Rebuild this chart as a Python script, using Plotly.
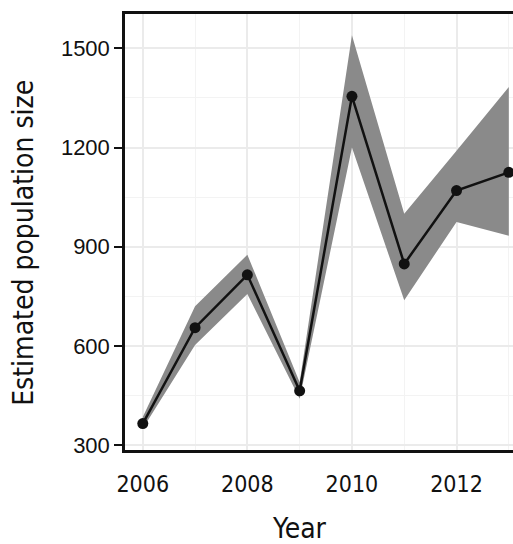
import plotly.graph_objects as go

years = [2006, 2007, 2008, 2009, 2010, 2011, 2012, 2013]
estimate = [365, 655, 815, 464, 1355, 848, 1070, 1125]
lower = [350, 603, 757, 440, 1200, 738, 975, 933]
upper = [385, 720, 876, 490, 1540, 1000, 1190, 1383]

x_tickvals = [2006, 2008, 2010, 2012]
x_ticktext = ["2006", "2008", "2010", "2012"]
y_tickvals = [300, 600, 900, 1200, 1500]
y_ticktext = ["300", "600", "900", "1200", "1500"]

XFONT = "DejaVu Sans Condensed, DejaVu Sans"

fig = go.Figure()
fig.add_trace(go.Scatter(x=years, y=lower, mode="lines", line=dict(width=0, color="rgba(0,0,0,0)"),
                         showlegend=False, hoverinfo="skip"))
fig.add_trace(go.Scatter(x=years, y=upper, mode="lines", line=dict(width=0, color="rgba(0,0,0,0)"),
                         fill="tonexty", fillcolor="rgb(138,138,138)", showlegend=False, hoverinfo="skip"))
fig.add_trace(go.Scatter(x=years, y=estimate, mode="lines+markers",
                         line=dict(color="#111111", width=2.5),
                         marker=dict(color="#111111", size=11),
                         showlegend=False))

fig.update_layout(
    width=513, height=544,
    margin=dict(l=125, r=0, t=14, b=94),
    paper_bgcolor="white", plot_bgcolor="white",
    xaxis=dict(
        range=[2005.66, 2013.08],
        tickvals=x_tickvals, ticktext=x_ticktext,
        ticks="", ticklabelstandoff=12,
        tickfont=dict(family=XFONT, size=23, color="#111111"),
        showgrid=True, gridcolor="#ebebeb", gridwidth=1.5,
        minor=dict(dtick=1, tick0=2007, showgrid=True, gridcolor="#f3f3f3", gridwidth=1),
        showline=True, linecolor="#111111", linewidth=2.5, mirror=True,
        zeroline=False,
    ),
    yaxis=dict(
        range=[285, 1604],
        tickvals=y_tickvals, ticktext=y_ticktext,
        ticks="outside", ticklen=8, tickwidth=2, tickcolor="#111111",
        tickfont=dict(family="Liberation Sans, Arial", size=22, color="#111111"),
        showgrid=True, gridcolor="#ebebeb", gridwidth=1.5,
        minor=dict(dtick=300, tick0=450, showgrid=True, gridcolor="#f3f3f3", gridwidth=1),
        showline=True, linecolor="#111111", linewidth=2.5,
        zeroline=False,
    ),
    annotations=[
        dict(text="Year", xref="paper", yref="paper", x=0.45, y=-0.18,
             showarrow=False, xanchor="center", yanchor="middle",
             font=dict(family=XFONT, size=28, color="#111111")),
        dict(text="Estimated population size", xref="paper", yref="paper", x=-0.262, y=0.476,
             showarrow=False, xanchor="center", yanchor="middle", textangle=-90,
             font=dict(family=XFONT, size=28, color="#111111")),
    ],
)

# remove the page's default body margin so the figure fills the window exactly
fig.write_html("out.html", config={"displayModeBar": False},
               post_script="document.body.style.margin='0';document.body.style.overflow='hidden';")
